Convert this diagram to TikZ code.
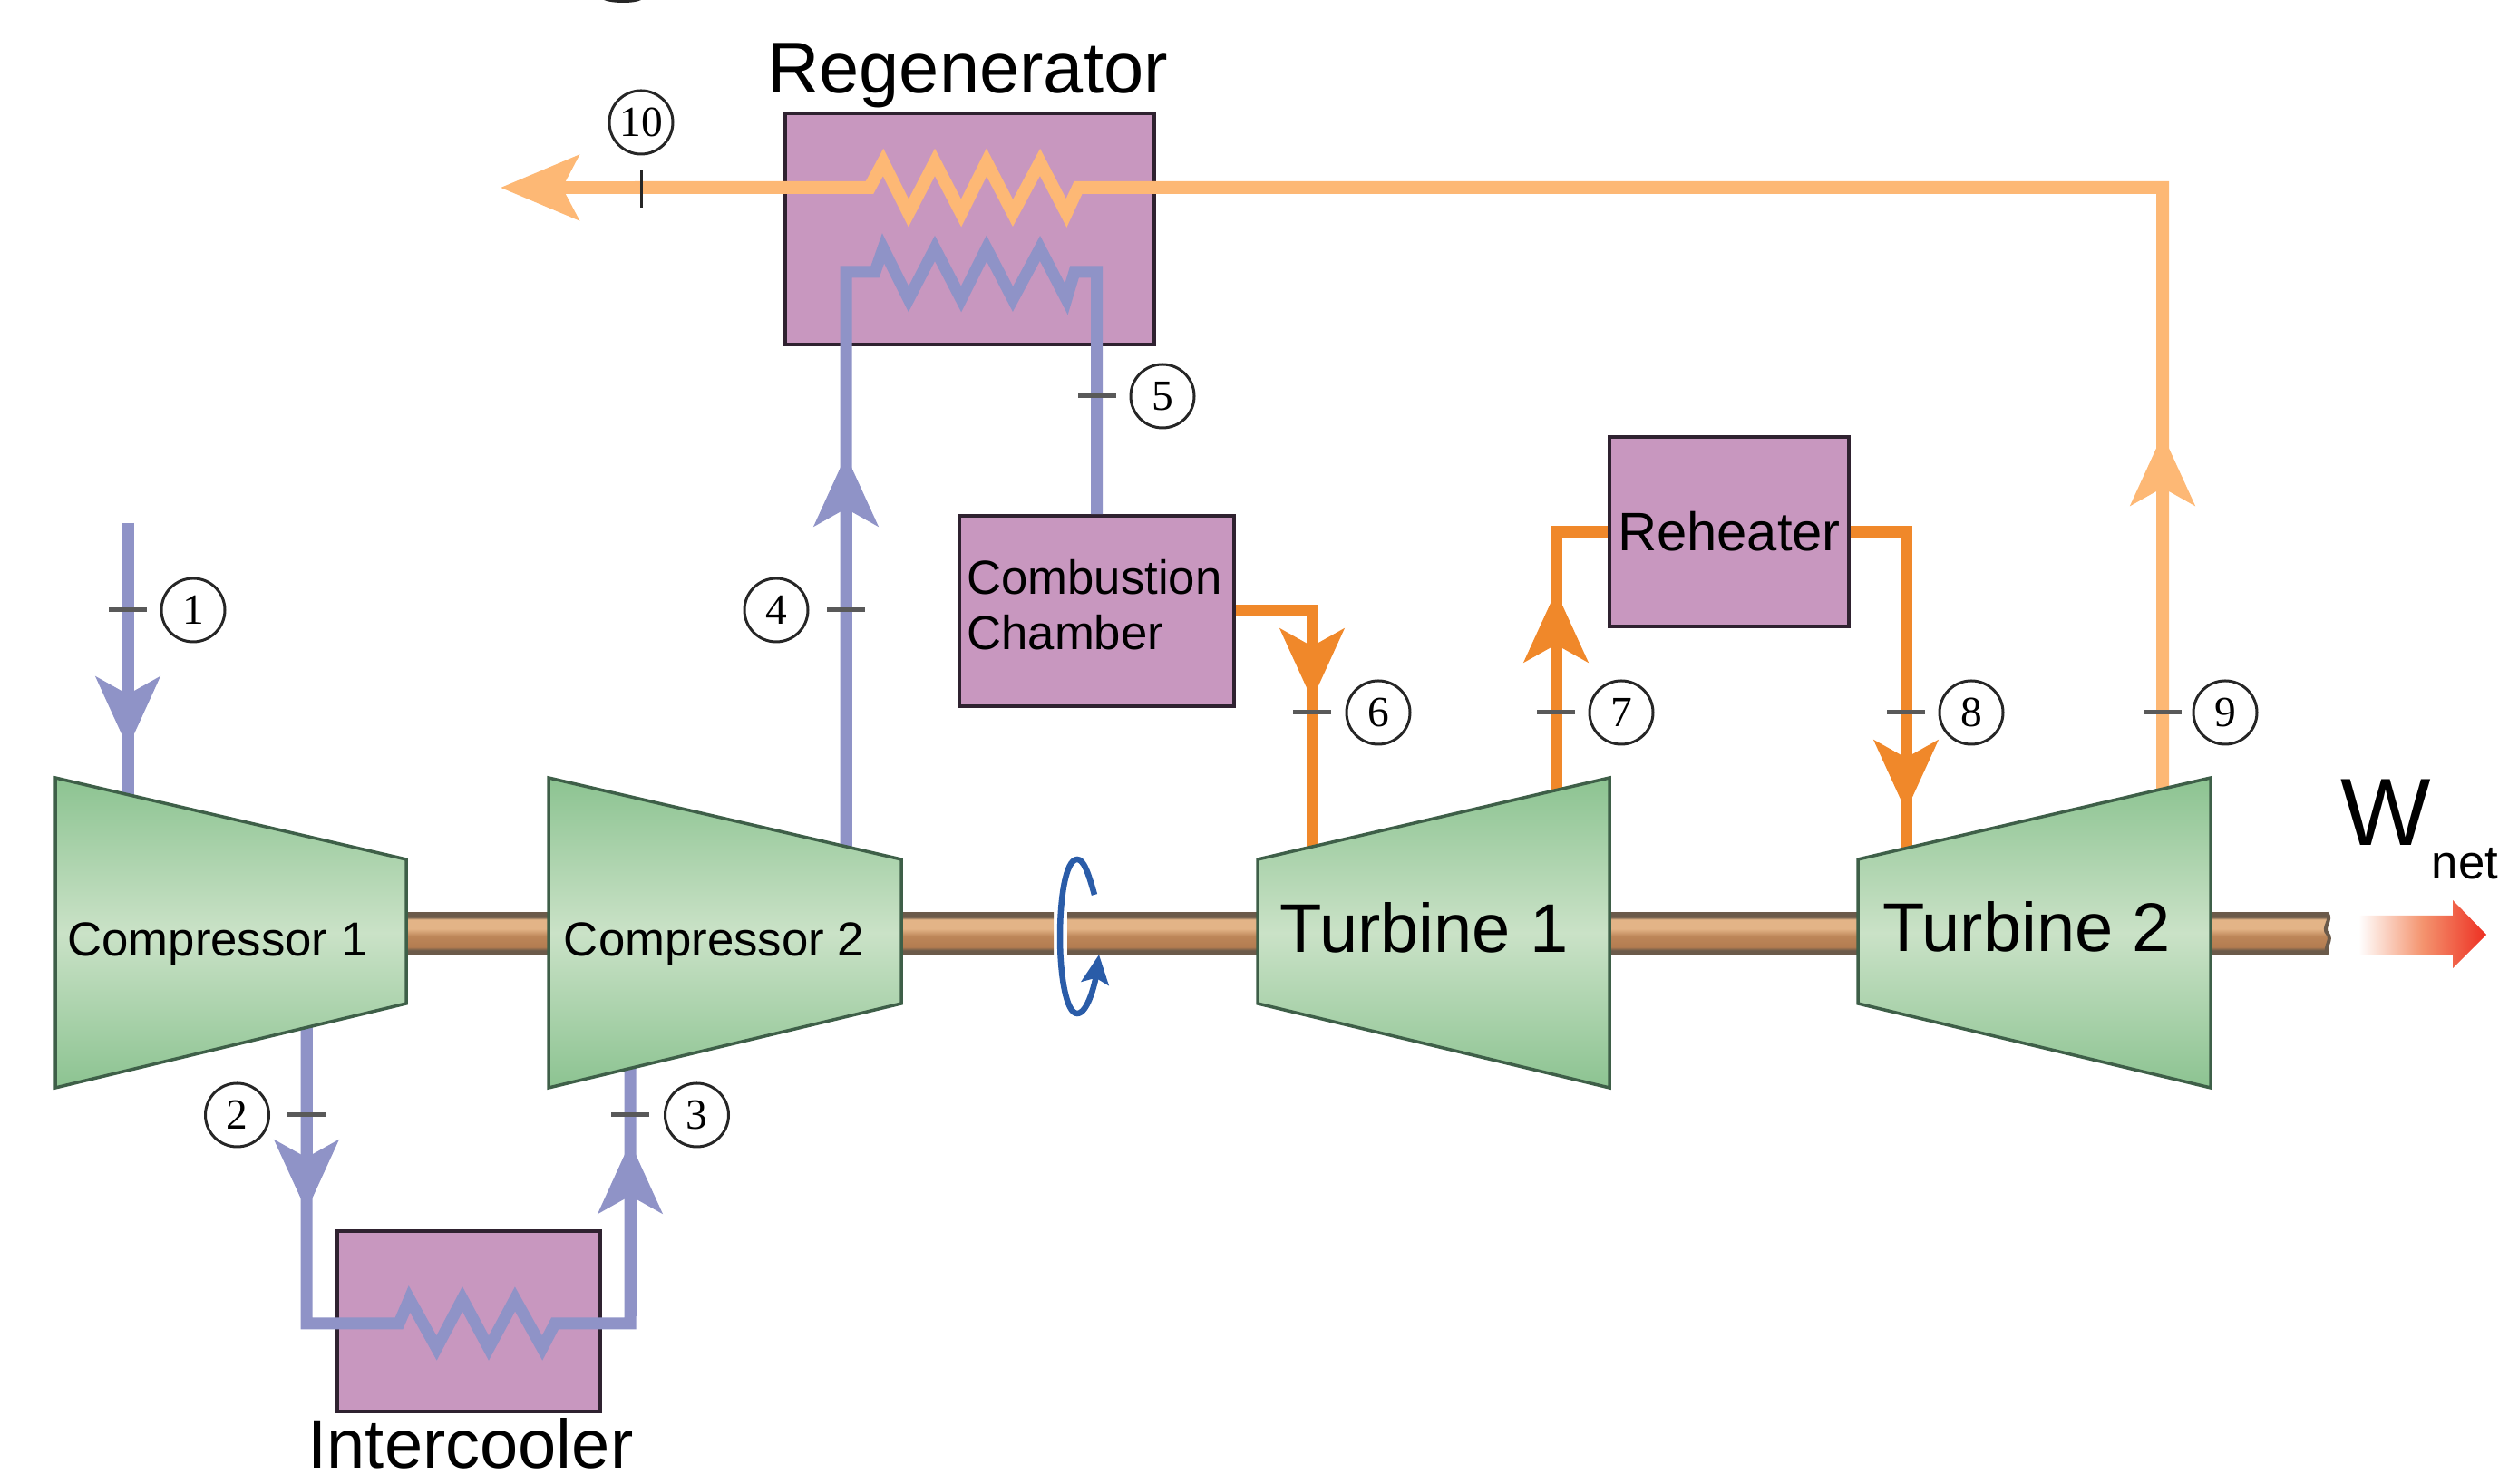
\documentclass[tikz,border=0pt]{standalone}
\usepackage{fontspec}
\setmainfont{Liberation Sans}
\newfontfamily\numfont{Liberation Serif}
\usetikzlibrary{arrows.meta}

\definecolor{pipeblue}{HTML}{8F93C7}
\definecolor{pipeorange}{HTML}{F0882A}
\definecolor{pipelight}{HTML}{FDB875}
\definecolor{boxpurple}{HTML}{C897BF}
\definecolor{boxedge}{HTML}{2F2230}
\definecolor{machdark}{HTML}{8CC391}
\definecolor{machpale}{HTML}{CAE2C7}
\definecolor{machedge}{HTML}{3E5F48}
\definecolor{shaftdark}{HTML}{6B5A4A}
\definecolor{shaftlow}{HTML}{B37C50}
\definecolor{shaftmid}{HTML}{BD8659}
\definecolor{shafthigh}{HTML}{E3B487}
\definecolor{spinblue}{HTML}{2A5CA8}
\definecolor{workred}{HTML}{ED2F22}
\definecolor{worksoft}{HTML}{F4946F}

\pgfdeclareverticalshading{shaftfill}{100bp}{color(0bp)=(shaftdark); color(30bp)=(shaftdark); color(34bp)=(shaftlow); color(47bp)=(shaftmid); color(56bp)=(shafthigh); color(67bp)=(shafthigh); color(70bp)=(shaftdark); color(100bp)=(shaftdark)}

\tikzset{
  heatbox/.style={draw=boxedge, fill=boxpurple, line width=.035cm, inner sep=0pt},
  machine/.style={draw=machedge, line width=.035cm, top color=machdark, bottom color=machdark, middle color=machpale},
  shaftbar/.style={shading=shaftfill},
  bluepipe/.style={draw=pipeblue, line width=.13cm},
  hotpipe/.style={draw=pipeorange, line width=.13cm},
  lightpipe/.style={draw=pipelight, line width=.14cm},
  tipped/.style={-{Stealth[length=.78cm,width=.7cm,inset=.19cm]}},
  tickmark/.style={fill=black!65, inner sep=0pt, minimum width=.42cm, minimum height=.05cm},
  statenum/.style={circle, draw=black!85, line width=.03cm, inner sep=0pt, minimum size=.7cm, font=\numfont\fontsize{13.5}{13.5}\selectfont},
  biglabel/.style={inner sep=0pt, anchor=base, font=\fontsize{22.6}{24}\selectfont},
  machlabel/.style={inner sep=0pt, anchor=base, font=\fontsize{15}{17}\selectfont},
  turblabel/.style={inner sep=0pt, anchor=base, font=\fontsize{21.6}{24}\selectfont}
}

\begin{document}
\begin{tikzpicture}
  \useasboundingbox (0,0) rectangle (27.56,16.37);

  \fill[black!85] (6.66,16.37) .. controls (6.75,16.33) and (7.00,16.33) .. (7.07,16.37) -- cycle;

  \node[heatbox, minimum width=4.07cm, minimum height=2.55cm] (regen) at (10.695,13.845) {};
  \node[heatbox, minimum width=3.03cm, minimum height=2.10cm] (burner) at (12.095,9.63) {};
  \node[heatbox, minimum width=2.64cm, minimum height=2.09cm, font=\fontsize{17}{20}\selectfont] (reheat) at (19.07,10.505) {Reheater};
  \node[heatbox, minimum width=2.90cm, minimum height=1.99cm] (cooler) at (5.17,1.795) {};

  \coordinate (in1) at (1.41,10.60);
  \coordinate (head1) at (1.41,8.12);
  \coordinate (comp1in) at (1.41,7.40);
  \coordinate (comp1out) at (3.38,5.20);
  \coordinate (head2) at (3.38,3.01);
  \coordinate (head3) at (6.95,3.77);
  \coordinate (comp2in) at (6.95,4.80);
  \coordinate (comp2out) at (9.33,6.90);
  \coordinate (head4) at (9.33,11.35);
  \coordinate (head6) at (14.47,8.65);
  \coordinate (turb1in) at (14.47,6.90);
  \coordinate (turb1out) at (17.16,7.50);
  \coordinate (head7) at (17.16,9.85);
  \coordinate (head8) at (21.02,7.42);
  \coordinate (turb2in) at (21.02,6.90);
  \coordinate (turb2out) at (23.85,7.50);
  \coordinate (head9) at (23.85,11.58);
  \coordinate (head10) at (5.52,14.30);

  \draw[bluepipe] (in1) -- (comp1in);
  \draw[bluepipe, tipped] (in1) -- (head1);

  \draw[bluepipe] (comp1out) -- (3.38,1.77) -- (4.40,1.77) -- (4.515,2.04) -- (4.815,1.50) -- (5.10,2.04) -- (5.39,1.50) -- (5.68,2.04) -- (5.98,1.50) -- (6.12,1.77) -- (6.95,1.77) -- (comp2in);
  \draw[bluepipe, tipped] (comp1out) -- (head2);
  \draw[bluepipe, tipped] (6.95,1.85) -- (head3);

  \draw[bluepipe] (comp2out) -- (9.33,13.37) -- (9.65,13.37) -- (9.74,13.63) -- (10.02,13.07) -- (10.31,13.63) -- (10.60,13.07) -- (10.88,13.63) -- (11.17,13.07) -- (11.47,13.63) -- (11.76,13.07) -- (11.85,13.37) -- (burner.north |- 0,13.37) -- (burner.north);
  \draw[bluepipe, tipped] (comp2out) -- (head4);

  \draw[hotpipe] (burner.east) -| (turb1in);
  \draw[hotpipe, tipped] (burner.east) -| (head6);

  \draw[hotpipe] (turb1out) |- (reheat.west);
  \draw[hotpipe, tipped] (turb1out) -- (head7);

  \draw[hotpipe] (reheat.east) -| (turb2in);
  \draw[hotpipe, tipped] (reheat.east) -| (head8);

  \draw[lightpipe] (turb2out) -- (23.85,14.30) -- (11.89,14.30) -- (11.76,14.02) -- (11.47,14.58) -- (11.17,14.02) -- (10.88,14.58) -- (10.60,14.02) -- (10.31,14.58) -- (10.02,14.02) -- (9.74,14.58) -- (9.59,14.30) -- (7.00,14.30);
  \draw[lightpipe, tipped] (turb2out) -- (head9);
  \draw[lightpipe, -{Stealth[length=.86cm,width=.71cm,inset=.18cm]}] (9.59,14.30) -- (head10);

  \shade[shaftbar] (4.48,5.84) rectangle (6.05,6.30);
  \shade[shaftbar] (9.94,5.84) rectangle (11.62,6.30);
  \shade[shaftbar] (11.77,5.84) rectangle (13.87,6.30);
  \shade[shaftbar] (17.75,5.84) rectangle (20.49,6.30);
  \shade[shaftbar] (24.38,5.84) rectangle (25.67,6.30);
  \draw[shaftdark, line width=.04cm] (25.66,6.30) .. controls (25.73,6.22) and (25.60,6.14) .. (25.67,6.07) .. controls (25.73,6.00) and (25.62,5.92) .. (25.67,5.84);

  \path[machine] (0.61,7.79) -- (4.48,6.89) -- (4.48,5.30) -- (0.61,4.37) -- cycle;
  \path[machine] (6.05,7.79) -- (9.94,6.89) -- (9.94,5.30) -- (6.05,4.37) -- cycle;
  \path[machine] (13.87,6.89) -- (17.75,7.79) -- (17.75,4.37) -- (13.87,5.30) -- cycle;
  \path[machine] (20.49,6.89) -- (24.38,7.79) -- (24.38,4.37) -- (20.49,5.30) -- cycle;

  \draw[spinblue, line width=.065cm, -{Stealth[length=.32cm,width=.3cm,inset=.06cm]}] (12.07,6.50) .. controls (12.00,6.75) and (11.95,6.89) .. (11.88,6.89) .. controls (11.75,6.89) and (11.69,6.45) .. (11.69,6.04) .. controls (11.69,5.60) and (11.76,5.19) .. (11.88,5.19) .. controls (12.00,5.19) and (12.08,5.55) .. (12.12,5.84);

  \shade[left color=white, right color=workred, middle color=worksoft] (26.01,6.27) -- (27.05,6.27) -- (27.05,6.44) -- (27.42,6.06) -- (27.05,5.69) -- (27.05,5.84) -- (26.01,5.84) -- cycle;

  \node[tickmark] (tick1) at (1.41,9.64) {};
  \node[tickmark] (tick2) at (3.38,4.07) {};
  \node[tickmark] (tick3) at (6.95,4.07) {};
  \node[tickmark] (tick4) at (9.33,9.64) {};
  \node[tickmark] (tick5) at (12.10,12.00) {};
  \node[tickmark] (tick6) at (14.47,8.51) {};
  \node[tickmark] (tick7) at (17.16,8.51) {};
  \node[tickmark] (tick8) at (21.02,8.51) {};
  \node[tickmark] (tick9) at (23.85,8.51) {};
  \node[tickmark, rotate=90, fill=black!85, minimum height=.03cm] (tick10) at (7.07,14.285) {};

  \node[statenum] (state1) at (2.13,9.64) {1};
  \node[statenum] (state2) at (2.615,4.07) {2};
  \node[statenum] (state3) at (7.685,4.07) {3};
  \node[statenum] (state4) at (8.56,9.64) {4};
  \node[statenum] (state5) at (12.82,12.00) {5};
  \node[statenum] (state6) at (15.20,8.51) {6};
  \node[statenum] (state7) at (17.88,8.51) {7};
  \node[statenum] (state8) at (21.74,8.51) {8};
  \node[statenum] (state9) at (24.54,8.51) {9};
  \node[statenum] (state10) at (7.07,15.02) {10};

  \node[biglabel] (regenlabel) at (10.67,15.34) {Regenerator};
  \node[biglabel, font=\fontsize{21.6}{24}\selectfont] (coollabel) at (5.19,0.17) {Intercooler};
  \node[inner sep=0pt, align=left, font=\fontsize{15}{17.3}\selectfont] (burnerlabel) at (12.07,9.70) {Combustion\\Chamber};
  \node[machlabel] (comp1label) at (2.40,5.82) {Compressor 1};
  \node[machlabel] (comp2label) at (7.875,5.82) {Compressor 2};
  \node[turblabel] (turb1label) at (15.705,5.86) {Turbine 1};
  \node[turblabel] (turb2label) at (22.35,5.87) {Turbine 2};

  \node[inner sep=0pt, anchor=base west, font=\fontsize{30}{32}\selectfont] (work) at (25.81,7.04) {W};
  \node[inner sep=0pt, anchor=base west, font=\fontsize{15}{17}\selectfont] (worknet) at (26.81,6.67) {net};
\end{tikzpicture}
\end{document}
